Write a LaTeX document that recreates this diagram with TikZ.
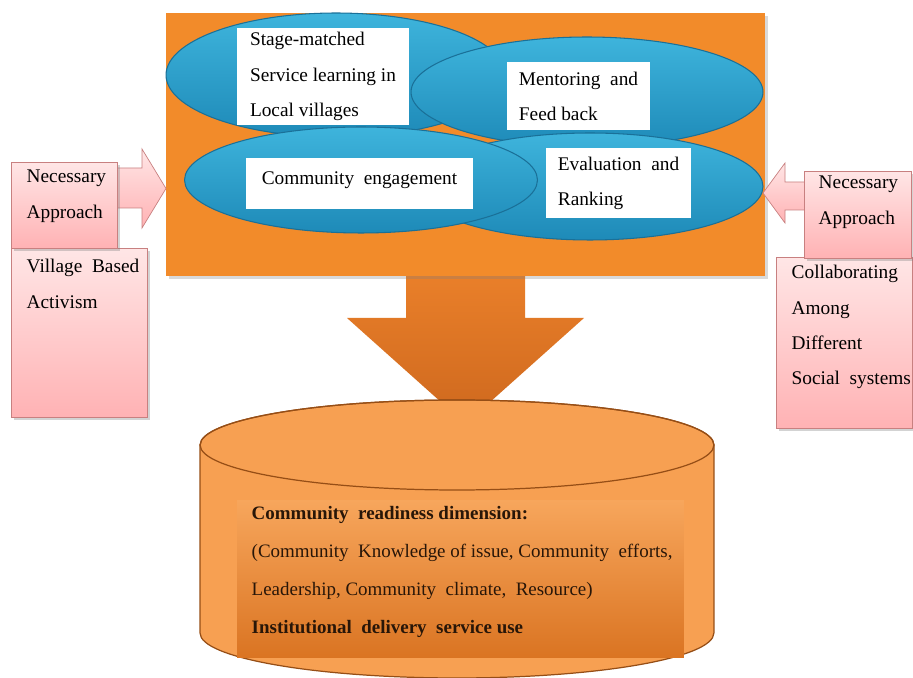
\documentclass[tikz,border=0pt]{standalone}
\usepackage{fontspec}
\setmainfont{Liberation Serif}
\usetikzlibrary{shapes.geometric, shadows}
\definecolor{panelorange}{RGB}{242, 139, 42}
\definecolor{arrowtop}{RGB}{234, 128, 42}
\definecolor{arrowbot}{RGB}{206, 104, 30}
\definecolor{drumorange}{RGB}{247, 160, 82}
\definecolor{drumedge}{RGB}{150, 78, 22}
\definecolor{innertop}{RGB}{247, 166, 92}
\definecolor{innerbot}{RGB}{218, 116, 34}
\definecolor{bluetop}{RGB}{62, 180, 220}
\definecolor{bluebot}{RGB}{30, 138, 184}
\definecolor{blueedge}{RGB}{26, 112, 152}
\definecolor{pinktop}{RGB}{255, 230, 230}
\definecolor{pinkbot}{RGB}{255, 178, 180}
\definecolor{pinkedge}{RGB}{200, 128, 128}
\definecolor{darkink}{RGB}{40, 22, 8}

\begin{document}
\begin{tikzpicture}[x=0.02cm, y=-0.02cm,
  panel/.style={rectangle, fill=panelorange, inner sep=0pt,
                drop shadow={opacity=0.3, shadow xshift=1.5pt, shadow yshift=-1.5pt}},
  blob/.style={ellipse, draw=blueedge, line width=0.6pt,
               top color=bluetop, bottom color=bluebot, inner sep=0pt},
  card/.style={rectangle, fill=white, align=left, inner sep=0pt,
               font=\fontsize{11}{20}\selectfont},
  pinkbox/.style={rectangle, draw=pinkedge, top color=pinktop, bottom color=pinkbot,
                  inner sep=0pt,
                  drop shadow={opacity=0.35, shadow xshift=1.5pt, shadow yshift=-1.5pt}},
  pinkarrow/.style={draw=pinkedge, top color=pinktop, bottom color=pinkbot, line join=miter},
  note/.style={anchor=west, align=left, font=\fontsize{11}{20.5}\selectfont}
]
  \useasboundingbox (0,0) rectangle (913,678);

  % big arrow down to the drum
  \path[top color=arrowtop, bottom color=arrowbot]
    (406,270) -- (525,270) -- (525,318) -- (584,318) -- (465.5,424)
    -- (347,318) -- (406,318) -- cycle;

  \node[panel, minimum width=11.98cm, minimum height=5.26cm] (panel) at (465.5,144.5) {};

  \node[blob, minimum width=6.8cm,  minimum height=2.48cm] (learn)  at (336,75)    {};
  \node[blob, minimum width=7.04cm, minimum height=2.2cm]  (mentor) at (587,92)    {};
  \node[blob, minimum width=6.92cm, minimum height=2.14cm] (rank)   at (590,186.5) {};
  \node[blob, minimum width=7.06cm, minimum height=2.12cm] (engage) at (361,180)   {};

  \node[card, minimum width=3.44cm, minimum height=1.94cm] (learntxt)  at (323,76.5)
    {Stage-matched\\Service learning in\\Local villages};
  \node[card, minimum width=2.86cm, minimum height=1.36cm] (mentortxt) at (578.5,96)
    {Mentoring\ \ and\\Feed back};
  \node[card, minimum width=4.54cm, minimum height=1.02cm] (engagetxt) at (359.5,183.5)
    {\raisebox{6pt}{Community\ \ engagement}};
  \node[card, minimum width=2.9cm,  minimum height=1.4cm]  (ranktxt)   at (618.5,183)
    {Evaluation\ \ and\\Ranking};

  % left side
  \node[pinkbox, minimum width=2.72cm, minimum height=3.38cm] (village) at (79,332.5) {};
  \path[pinkarrow] (112,168) -- (142,168) -- (142,149) -- (166,188.5)
    -- (142,228) -- (142,208) -- (112,208) -- cycle;
  \node[pinkbox, minimum width=2.12cm, minimum height=1.72cm] (needL) at (64,205) {};
  \node[note] at (20.5,196) {Necessary\\Approach};
  \node[note] at (20.5,284) {Village\ \ Based\\Activism};

  % right side
  \node[pinkbox, minimum width=2.72cm, minimum height=3.42cm] (collab) at (844,342.5) {};
  \path[pinkarrow] (809,182) -- (785,182) -- (785,163) -- (763,193)
    -- (785,223) -- (785,210) -- (809,210) -- cycle;
  \node[pinkbox, minimum width=2.14cm, minimum height=1.74cm] (needR) at (857.5,214.5) {};
  \node[note] at (812.5,202.5) {Necessary\\Approach};
  \node[note, font=\fontsize{11}{20}\selectfont] at (785.5,327)
    {Collaborating\\Among\\Different\\Social\ \ systems};

  % readiness drum
  \path[draw=drumedge, fill=drumorange, line width=0.7pt]
    (200,445) -- (200,633)
    arc[start angle=180, end angle=360, x radius=5.14cm, y radius=0.9cm]
    -- (714,445)
    arc[start angle=0, end angle=180, x radius=5.14cm, y radius=0.9cm] -- cycle;
  \draw[drumedge, line width=0.7pt] (457,445) ellipse[x radius=5.14cm, y radius=0.9cm];
  \node[rectangle, top color=innertop, bottom color=innerbot, inner sep=0pt,
        minimum width=8.94cm, minimum height=3.16cm] (readiness) at (460.5,579) {};
  \node[note, text=darkink, font=\fontsize{10.8}{21.5}\selectfont] at (245.5,572)
    {\textbf{Community\ \ readiness dimension:}\\
     (Community\ \ Knowledge of issue, Community\ \ efforts,\\
     Leadership, Community\ \ climate,\ \ Resource)\\
     \textbf{Institutional\ \ delivery\ \ service use}};
\end{tikzpicture}
\end{document}
